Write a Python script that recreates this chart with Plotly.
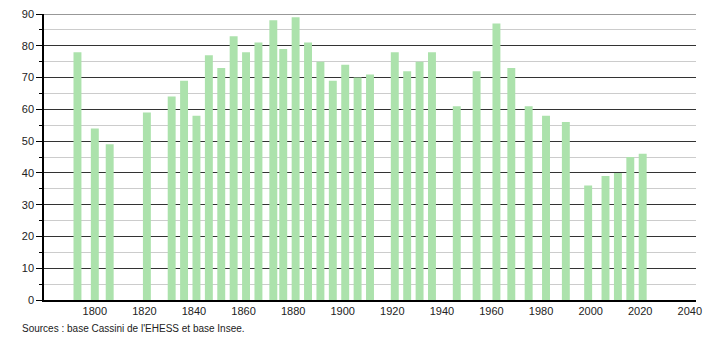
import plotly.graph_objects as go

years = [1793, 1800, 1806, 1821, 1831, 1836, 1841, 1846, 1851, 1856, 1861, 1866,
         1872, 1876, 1881, 1886, 1891, 1896, 1901, 1906, 1911, 1921, 1926, 1931,
         1936, 1946, 1954, 1962, 1968, 1975, 1982, 1990, 1999, 2006, 2011, 2016, 2021]
population = [78, 54, 49, 59, 64, 69, 58, 77, 73, 83, 78, 81,
              88, 79, 89, 81, 75, 69, 74, 70, 71, 78, 72, 75,
              78, 61, 72, 87, 73, 61, 58, 56, 36, 39, 40, 45, 46]
x_ticks = [1800, 1820, 1840, 1860, 1880, 1900, 1920, 1940, 1960, 1980, 2000, 2020, 2040]
y_ticks = [0, 10, 20, 30, 40, 50, 60, 70, 80, 90]
source_text = "Sources : base Cassini de l'EHESS et base Insee."

fig = go.Figure()
fig.add_trace(go.Bar(
    x=years, y=population, width=3.2,
    marker=dict(color="rgb(172,226,172)", line=dict(width=0)),
    hoverinfo="x+y",
))

fig.update_layout(
    width=710, height=340,
    margin=dict(l=44, r=8, t=11, b=40),
    paper_bgcolor="white", plot_bgcolor="white",
    showlegend=False,
    font=dict(family="Liberation Sans, Arial, sans-serif", size=11, color="#222"),
    xaxis=dict(
        range=[1779.5, 2042.5],
        tickmode="array", tickvals=x_ticks,
        showgrid=False, zeroline=False,
        showline=True, linecolor="black", linewidth=1.5,
        ticks="", tickfont=dict(size=11, color="#222"),
    ),
    yaxis=dict(
        range=[0, 90],
        tickmode="array", tickvals=y_ticks,
        showgrid=True, gridcolor="#333333", gridwidth=1,
        zeroline=False,
        showline=True, linecolor="black", linewidth=1.5,
        ticks="outside", ticklen=6, tickcolor="black", tickwidth=1,
        tickfont=dict(size=11, color="#222"),
        minor=dict(dtick=5, showgrid=True, gridcolor="#cccccc", gridwidth=1,
                   ticks="outside", ticklen=3, tickcolor="black"),
    ),
    annotations=[dict(
        text=source_text, xref="paper", yref="paper",
        x=-0.037, y=-0.072, xanchor="left", yanchor="top",
        showarrow=False, font=dict(size=10, color="#222"),
    )],
    shapes=[dict(type="line", xref="paper", yref="y", x0=0, x1=1, y0=90, y1=90,
                 line=dict(color="#333333", width=1))],
)

fig.write_html("out.html")
